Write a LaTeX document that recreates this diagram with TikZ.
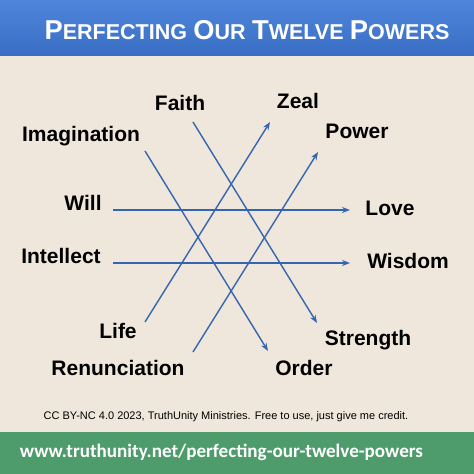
\documentclass[tikz,border=0pt]{standalone}
\usepackage{fontspec}
\setmainfont{Liberation Sans}
\newfontfamily\urlfont{Carlito}
\usetikzlibrary{arrows.meta}
\definecolor{bgbeige}{HTML}{EFE7DB}
\definecolor{hdtop}{HTML}{4E86DA}
\definecolor{hdbot}{HTML}{3A6EC6}
\definecolor{ftgreen}{HTML}{4E9B6B}
\definecolor{lineblue}{HTML}{3565B0}
\newcommand{\bigc}[1]{{\fontsize{27.3}{27.3}\selectfont #1}}
\newcommand{\smc}[1]{{\fontsize{21.5}{21.5}\selectfont #1}}
\begin{document}
\begin{tikzpicture}[x=1pt,y=-1pt,
  lbl/.style={anchor=base,inner sep=0pt,font=\fontsize{21}{21}\selectfont\bfseries,text=black},
  conn/.style={draw=lineblue,line width=1.4pt,-{Stealth[length=8pt,width=6pt]}}]
\useasboundingbox (0,0) rectangle (474,474);
\fill[bgbeige] (0,0) rectangle (474,474);
\shade[top color=hdtop,bottom color=hdbot] (0,0) rectangle (474,55);
\fill[ftgreen] (0,432) rectangle (474,474);
\node[anchor=base,inner sep=0pt,text=white,font=\bfseries\fontsize{23}{23}\selectfont] (title) at (247,39)
 {\bigc{P}\smc{ERFECTING} \bigc{O}\smc{UR} \bigc{T}\smc{WELVE} \bigc{P}\smc{OWERS}};
\node[anchor=base,inner sep=0pt,font=\fontsize{11}{11}\selectfont] (cc) at (226,419)
 {CC BY-NC 4.0 2023, TruthUnity Ministries. Free to use, just give me credit.};
\node[anchor=base,inner sep=0pt,text=white,font=\urlfont\bfseries\fontsize{19.1}{19.1}\selectfont] (url) at (221.5,457)
 {www.truthunity.net/perfecting-our-twelve-powers};
% labels
\node[lbl] (faith) at (180,110) {Faith};
\node[lbl] (imag) at (81,141) {Imagination};
\node[lbl] (will) at (83,210) {Will};
\node[lbl] (intel) at (61,263) {Intellect};
\node[lbl] (zeal) at (298,108) {Zeal};
\node[lbl] (power) at (357,138) {Power};
\node[lbl] (love) at (390,215) {Love};
\node[lbl] (wisdom) at (408,268) {Wisdom};
\node[lbl] (life) at (118,338) {Life};
\node[lbl] (renun) at (118,375) {Renunciation};
\node[lbl] (order) at (304,375) {Order};
\node[lbl] (strength) at (368,345) {Strength};
% connector endpoints
\coordinate (faithS) at (193,122);
\coordinate (strengthE) at (317,323);
\coordinate (imagS) at (145,151);
\coordinate (orderE) at (268,351);
\coordinate (willS) at (113,210);
\coordinate (loveE) at (350,210);
\coordinate (intelS) at (113,263);
\coordinate (wisdomE) at (350,263);
\coordinate (lifeS) at (145,322);
\coordinate (zealE) at (270,122);
\coordinate (renunS) at (193,352);
\coordinate (powerE) at (318,152);
\draw[conn] (faithS) -- (strengthE);
\draw[conn] (imagS) -- (orderE);
\draw[conn] (willS) -- (loveE);
\draw[conn] (intelS) -- (wisdomE);
\draw[conn] (lifeS) -- (zealE);
\draw[conn] (renunS) -- (powerE);
\end{tikzpicture}
\end{document}
